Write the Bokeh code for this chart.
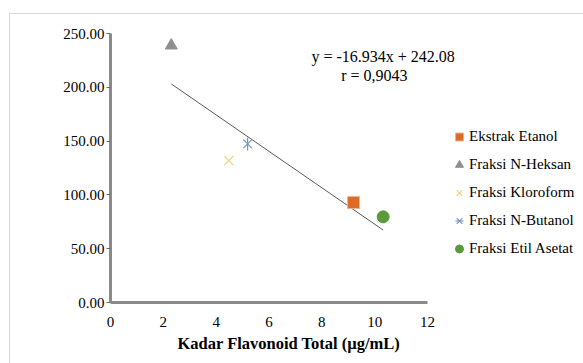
import math
from bokeh.plotting import figure
from bokeh.models import (Legend, LegendItem, Label, FixedTicker, PrintfTickFormatter, Title,
                          LinearAxis)
from bokeh.embed import file_html
from bokeh.resources import INLINE

# ---- data ----
names = ["Ekstrak Etanol", "Fraksi N-Heksan", "Fraksi Kloroform", "Fraksi N-Butanol", "Fraksi Etil Asetat"]
flavonoid = [9.2, 2.3, 4.48, 5.19, 10.32]
ic50 = [92.9, 238.8, 132.0, 147.4, 79.6]
markers = ["square", "triangle", "x", "star6", "circle"]
colors = ["#DD6B27", "#8F8F8F", "#EDD27A", "#7A95C8", "#5A9A3A"]
slope = -16.934
intercept = 242.08
equation = "y = -16.934x + 242.08"
r_text = "r = 0,9043"
x_title = "Kadar Flavonoid Total (µg/mL)"
x_ticks = [0, 2, 4, 6, 8, 10, 12]
y_ticks = [0, 50, 100, 150, 200, 250]

FONT = "Liberation Serif"

p = figure(frame_width=465, frame_height=269,
           min_border_left=100, min_border_right=8,
           min_border_top=19, min_border_bottom=61,
           x_range=(0, 17.6), y_range=(0, 250),
           x_axis_location=None, y_axis_location=None,
           output_backend="svg", toolbar_location=None)
p.margin = (13, 0, 0, 9)
p.styles = {"border-left": "1px solid #d6d6d6", "border-top": "1px solid #d6d6d6"}
p.outline_line_color = None
p.xgrid.visible = False
p.ygrid.visible = False
p.background_fill_color = "white"
p.border_fill_color = "white"

# trendline
lx = [min(flavonoid), max(flavonoid)]
ly = [slope * v + intercept for v in lx]
p.line(lx, ly, line_color="#5a5a5a", line_width=1)

items = []
for n, xv, yv, m, c in zip(names, flavonoid, ic50, markers, colors):
    if m == "x":
        rs = [p.scatter([xv], [yv], marker="x", size=13, line_color=c, line_width=1.2, fill_color=None)]
    elif m == "star6":
        rs = [p.scatter([xv], [yv], marker="x", size=12, line_color=c, line_width=1.2, fill_color=None),
              p.scatter([xv], [yv], marker="dash", size=13, angle=math.pi / 2, line_color=c,
                        line_width=1.2, fill_color=None)]
    elif m == "square":
        rs = [p.scatter([xv], [yv], marker=m, size=12, fill_color=c, line_color="#EBB58E", line_width=1)]
    else:
        rs = [p.scatter([xv], [yv], marker=m, size=12, fill_color=c, line_color=c)]
    items.append(LegendItem(label=n, renderers=rs))

legend = Legend(items=items, location=(339, 41), orientation="vertical",
                label_text_font=FONT, label_text_font_size="15px", label_text_color="black",
                glyph_width=20, glyph_height=25, label_height=20, spacing=3,
                label_standoff=0, padding=0, margin=0,
                border_line_color=None, background_fill_alpha=0)
p.add_layout(legend, "center")

# equation labels
p.add_layout(Label(x=10.32, y=228.6, text=equation, text_align="center", text_baseline="middle",
                   text_font=FONT, text_font_size="16px", text_color="black"))
p.add_layout(Label(x=9.99, y=211, text=r_text, text_align="center", text_baseline="middle",
                   text_font=FONT, text_font_size="16px", text_color="black"))

# axes
xa = LinearAxis(bounds=(0, 12))
xa.ticker = FixedTicker(ticks=x_ticks)
xa.axis_line_color = "#8a8a8a"
xa.axis_line_width = 3
xa.major_tick_line_color = None
xa.minor_tick_line_color = None
xa.major_label_text_font = FONT
xa.major_label_text_font_size = "15px"
xa.major_label_text_color = "black"
xa.major_label_standoff = 8
p.add_layout(xa, "below")

p.add_layout(Title(text=x_title, align="left", offset=67, standoff=4,
                   text_font=FONT, text_font_size="16.5px", text_font_style="bold",
                   text_color="black"), "below")

ya = LinearAxis(bounds=(0, 250))
ya.ticker = FixedTicker(ticks=y_ticks)
ya.formatter = PrintfTickFormatter(format="%.2f")
ya.axis_line_color = "#8a8a8a"
ya.axis_line_width = 3
ya.major_tick_line_color = "#6a6a6a"
ya.major_tick_out = 4
ya.major_tick_in = 0
ya.minor_tick_line_color = None
ya.major_label_text_font = FONT
ya.major_label_text_font_size = "15px"
ya.major_label_text_color = "black"
ya.major_label_standoff = 2
p.add_layout(ya, "left")

open("out.html", "w").write(file_html(p, INLINE))
